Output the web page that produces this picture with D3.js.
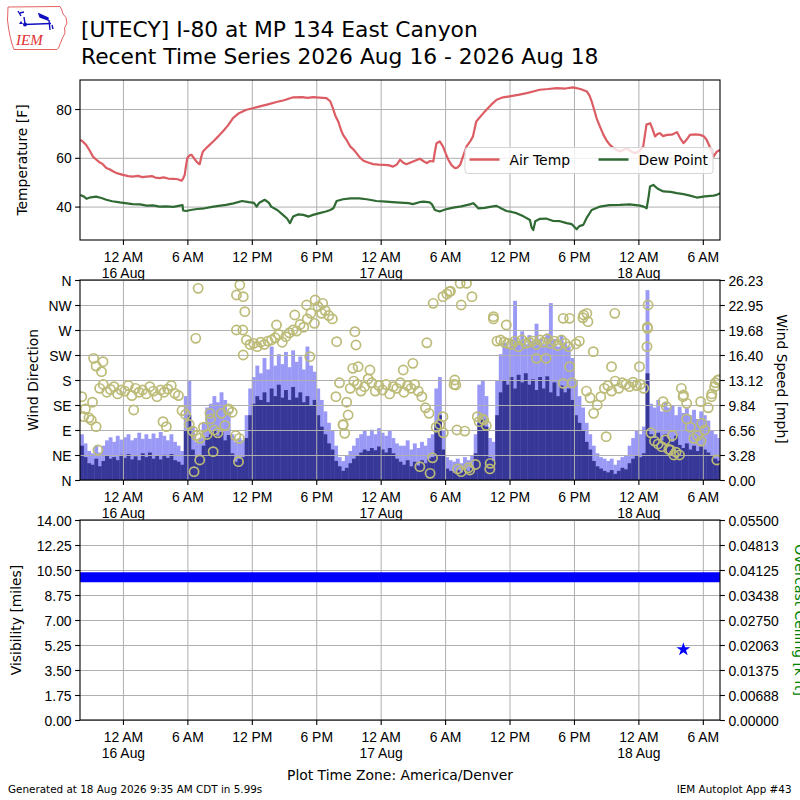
<!DOCTYPE html>
<html>
<head>
<meta charset="utf-8">
<script src="https://cdn.jsdelivr.net/npm/d3@7"></script>
<style>
  body { margin: 0; background: #fff; }
  svg { font-family: "DejaVu Sans", sans-serif; }
  .grid line { stroke: #b0b0b0; stroke-width: 1; }
  .grid path { display: none; }
  .ax path, .ax line { stroke: #000; stroke-width: 1.1; }
  .ax text { font-size: 13.9px; fill: #000; }
</style>
</head>
<body>
<script>
// hours are counted from 16 Aug 2026 00:00 local (America/Denver)
const airTemp = [[-3.97,67.4],[-3.7,66.5],[-3.4,65.1],[-3.1,63.0],[-2.8,60.5],[-2.5,59.3],[-2.2,58.2],[-1.9,57.5],[-1.55,55.8],[-1.2,55.2],[-0.9,54.4],[-0.5,53.6],[0,53.0],[0.5,52.5],[0.9,52.3],[1.4,52.6],[1.8,52.1],[2.2,52.3],[2.7,52.5],[3.0,51.9],[3.4,51.7],[3.8,52.0],[4.2,51.5],[4.7,51.4],[5.1,51.2],[5.45,50.6],[5.6,51.5],[5.75,53.0],[5.9,57.5],[6.0,59.9],[6.2,61.0],[6.4,61.2],[6.65,59.6],[6.85,58.5],[7.05,57.6],[7.15,57.4],[7.3,60.5],[7.45,62.6],[7.9,64.6],[8.4,66.7],[8.9,68.9],[9.3,70.8],[9.8,73.4],[10.25,76.3],[10.8,78.3],[11.5,79.7],[12.1,80.3],[12.75,81.1],[13.5,81.9],[14.3,82.9],[15.0,83.6],[15.85,84.8],[16.7,84.9],[17.2,84.6],[17.7,84.9],[18.3,84.7],[18.95,84.5],[19.3,83.2],[19.55,80.4],[19.8,77.0],[20.05,74.9],[20.3,71.5],[20.5,69.4],[20.8,67.5],[21.15,64.7],[21.45,63.5],[21.75,61.9],[22.05,60.2],[22.4,58.8],[22.9,58.0],[23.3,57.4],[23.8,57.2],[24.25,57.1],[24.7,57.0],[25.15,56.4],[25.5,57.2],[25.8,59.2],[26.1,58.0],[26.4,57.4],[26.9,58.3],[27.3,59.0],[27.65,59.6],[28.0,58.6],[28.3,57.8],[28.6,58.7],[28.9,58.5],[29.05,62.5],[29.2,66.0],[29.5,66.7],[29.8,64.7],[30.05,61.8],[30.3,59.2],[30.6,57.0],[30.9,55.8],[31.15,56.0],[31.4,57.1],[31.7,61.0],[32.0,64.7],[32.3,66.5],[32.6,68.8],[32.9,74.9],[33.4,77.5],[33.85,79.7],[34.3,81.8],[34.8,83.8],[35.4,84.8],[36.0,85.2],[36.8,85.8],[37.6,86.5],[38.2,87.2],[38.8,87.9],[39.6,88.2],[40.4,88.6],[41.2,88.4],[41.9,88.9],[42.6,88.2],[43.2,87.2],[43.45,85.5],[43.65,83.1],[43.9,79.5],[44.1,76.3],[44.45,72.5],[44.75,69.4],[45.05,67.0],[45.35,65.3],[45.8,63.6],[46.3,62.6],[46.6,63.2],[46.9,64.0],[47.3,62.6],[47.7,61.9],[48.1,62.8],[48.45,64.7],[48.6,69.0],[48.75,73.6],[49.1,74.2],[49.3,72.0],[49.55,68.8],[49.8,69.8],[50.0,70.1],[50.3,68.9],[50.65,69.4],[51.1,69.5],[51.6,70.5],[51.9,68.0],[52.2,66.0],[52.5,67.5],[52.8,69.4],[53.3,69.6],[53.75,69.4],[54.1,68.8],[54.35,67.4],[54.7,64.0],[55.0,60.5],[55.3,62.5],[55.6,63.2]];

const dewPoint = [[-3.97,44.8],[-3.6,44.0],[-3.4,43.2],[-3.0,43.8],[-2.5,44.1],[-2.0,43.5],[-1.55,42.8],[-1.0,42.2],[-0.3,41.7],[0.9,41.0],[1.6,40.9],[2.2,40.4],[2.8,40.5],[3.4,40.0],[4.0,40.1],[4.7,39.9],[5.3,40.4],[5.55,40.6],[5.6,38.4],[5.9,38.2],[6.3,38.6],[6.9,39.0],[7.6,39.3],[8.3,39.9],[8.9,40.3],[9.6,40.7],[10.3,41.3],[11.1,42.3],[11.7,41.8],[12.2,41.5],[12.45,40.0],[12.7,41.6],[13.2,42.8],[13.6,41.5],[13.8,40.0],[14.4,38.5],[14.9,36.6],[15.3,35.0],[15.55,33.2],[15.85,35.9],[16.3,36.8],[16.8,36.6],[17.3,35.9],[17.7,36.6],[18.3,37.3],[18.9,38.0],[19.3,38.6],[19.6,39.3],[19.9,42.3],[20.5,43.0],[21.2,43.4],[22.0,43.4],[22.7,43.0],[23.6,42.3],[24.5,42.0],[25.1,41.8],[25.8,41.6],[26.6,41.4],[27.0,41.0],[27.6,41.8],[28.0,42.0],[28.58,41.7],[28.8,40.8],[29.05,38.6],[29.5,38.0],[30.0,38.8],[30.76,39.6],[31.5,40.1],[32.3,40.9],[32.61,41.4],[32.9,40.3],[33.08,39.3],[33.7,39.5],[34.3,40.0],[34.79,40.3],[35.2,39.3],[35.72,38.2],[36.2,37.8],[36.65,37.3],[37.3,36.0],[37.9,34.5],[38.05,31.5],[38.21,30.4],[38.4,34.0],[38.83,35.0],[39.4,35.1],[40.07,34.1],[40.7,34.0],[41.32,33.2],[41.8,32.8],[42.25,30.7],[42.5,32.0],[42.87,32.5],[43.2,35.5],[43.65,38.6],[44.43,40.0],[45.3,40.6],[46.29,40.7],[47.2,40.9],[48.15,40.4],[48.5,40.0],[48.77,39.3],[48.95,44.0],[49.08,48.2],[49.39,48.9],[49.8,47.3],[50.33,46.2],[51.0,46.0],[51.58,45.5],[52.2,45.1],[52.8,44.5],[53.44,43.7],[54.2,44.2],[54.99,44.5],[55.3,44.8],[55.61,45.5]];

// wind obs: one value per 20 minute slot, first slot starts at hour -4
const windStartHour = -4;
const windSlotHours = 1 / 3;
const windSpeed = [4.5,3.0,2.2, 2.0,2.8,1.8, 2.5,3.2,2.8, 3.0,2.6,3.3, 2.9,3.4,2.7, 3.1,2.6,3.5, 3.0,3.6,2.8, 3.2,2.7,3.3, 2.9,3.4,2.6, 2.4,2.0,6.5,
  8.5,4.0,3.0, 3.2,4.5,5.6, 6.0,6.5,5.8, 6.3,5.2,5.9, 3.5,2.4,2.8, 3.0,5.5,8.5, 10.0,11.0,10.5, 11.5,10.2,12.0, 11.0,12.5,10.8, 11.8,10.5,12.2,
  10.8,11.5,10.2, 11.0,9.8,10.5, 8.5,7.0,6.0, 4.8,4.0,2.5, 1.8,1.2,1.6, 2.2,2.8,3.2, 3.6,4.0,3.8, 4.2,3.9,4.4, 4.0,3.6,4.2, 3.5,2.8,2.4,
  2.0,2.6,1.8, 2.4,1.9,2.6, 2.2,2.8,3.0, 7.5,8.5,4.0, 1.5,1.2,1.0, 1.3,1.0,1.4, 1.2,1.6,3.5, 7.5,8.0,7.0, 3.0,2.5,8.5, 11.5,13.0,12.5,
  13.5,12.0,13.8, 12.8,14.0,12.5, 13.2,11.8,13.5, 12.0,13.6,11.5, 12.8,11.0,12.4, 11.5,12.0,10.5, 8.5,7.5,6.5, 5.0,4.0,2.5, 1.8,1.5,1.2, 1.0,1.3,0.8,
  1.2,1.6,1.4, 2.2,2.8,3.2, 3.0,3.5,14.0, 6.0,5.5,6.2, 5.2,6.0,5.5, 5.0,5.8,4.6, 4.2,4.8,4.0, 4.5,3.8,4.4, 4.0,3.6,3.2, 2.8,2.5];
const windGust = [6.0,4.8,3.8, 3.5,4.5,3.6, 4.5,5.2,5.6, 5.0,5.8,5.3, 5.6,6.0,5.2, 5.5,6.2,5.4, 6.0,5.4,6.1, 5.5,6.3,5.8, 5.2,6.0,5.0, 4.5,3.8,11.0,
  13.0,7.0,5.0, 5.5,7.5,9.5, 10.0,11.0,10.2, 11.5,10.5,9.0, 6.0,5.0,5.5, 5.2,8.5,12.0, 13.5,15.0,14.0, 16.0,14.5,17.5, 15.0,16.5,15.2, 16.8,14.8,17.0,
  15.5,16.2,14.5, 17.5,15.0,14.2, 12.0,10.5,9.0, 7.5,6.5,4.5, 3.0,2.5,3.2, 3.8,4.5,5.5, 6.0,6.5,5.8, 6.6,6.0,6.8, 6.2,5.8,6.5, 5.5,4.8,4.5,
  4.5,5.2,4.0, 4.8,4.2,5.0, 4.5,5.5,6.0, 12.0,13.5,6.5, 3.0,2.6,2.4, 2.8,2.2,3.0, 2.6,3.2,6.0, 12.5,13.0,11.0, 5.5,5.0,13.0, 16.5,18.0,17.5,
  18.5,23.5,18.0, 19.5,17.8,19.0, 18.2,20.5,18.5, 17.8,19.2,23.2, 18.5,17.5,19.0, 18.0,17.5,16.0, 13.0,11.0,9.5, 7.5,6.0,4.5, 3.5,3.0,2.8, 2.5,2.8,2.0,
  2.6,3.0,3.2, 4.5,5.5,6.5, 6.0,7.0,24.9, 10.0,9.5,10.5, 9.0,10.2,9.5, 9.8,8.5,9.6, 8.8,9.5,8.5, 9.2,8.0,9.0, 8.5,7.8,6.5, 6.0,5.5];
const windDir = [150,128,112, 140,205,165, 172,158,163, 168,155,162, 160,170,152, 165,158,162, 155,168,160, 150,162,158, 164,170,156, 152,125,118,
  100,88,80, 75,95,82, 110,90,85, 120,98,128, 122,80,75, 270,252,244, 246,240,248, 244,250,252, 256,262,248, 258,265,270,
  268,280,275, 290,300,282, 312,300,305, 296,290,150, 175,100,140, 165,178,172, 160,168,182, 175,160,170, 162,172,155, 168,165,175,
  158,170,165, 172,160,150, 130,120,40, 95,100,85, 335,340,172, 20,15,88, 22,330,28, 105,110,98, 20,290,250, 252,248,246,
  244,250,240, 252,246,248, 250,244,252, 248,254,246, 250,242,252, 246,240,175, 245,250,292, 160,148,120, 135,150,165, 170,160,178,
  165,175,172, 168,176,170, 172,165,275, 85,70,65, 60,72,55, 80,50,45, 150,110,95, 75,80,70, 90,130,155, 175,180];
// extra direction reports between the 20 minute ones [hour, degrees]
const windDirExtra = [[-2.73,219],[-1.86,213],[-2.0,195],[-2.33,54],[-2.5,96],[-2.95,108],[-3.66,114],[1.0,126],[3.73,105],[4.04,96],
  [7.0,345],[6.78,255],[6.62,15],[7.15,36],[8.4,51],[8.1,120],[9.8,126],[10.57,333],[10.88,351],[11.2,330],[11.35,303],[10.57,270],[10.76,33],[11.2,225],
  [14.3,279],[16.0,297],[17.1,315],[17.9,324],[18.6,318],[17.4,222],[19.9,249],[21.6,267],[21.7,243],[20.5,99],[20.65,84],[20.97,117],[21.4,201],[21.9,204],[23.0,198],
  [28.89,318],[29.8,330],[30.4,339],[31.4,354],[32.0,354],[31.5,315],[28.3,247],[27.0,210],[26.1,198],[30.9,180],[31.0,171],[31.1,90],[29.8,114],[27.65,24],[28.6,12],[32.3,18],[34.2,30],[33.0,114],[33.6,108],
  [34.5,294],[35.7,279],[38.5,219],[39.4,219],[41.0,291],[41.6,291],[41.0,174],[41.6,204],[42.9,297],[43.2,300],[43.3,285],[43.8,231],[45.0,78],[45.8,300],[45.5,204],[48.1,204],
  [48.9,315],[48.84,273],[48.8,240],[50.3,141],[50.6,132],[52.0,165],[52.2,153],[52.5,138],[53.8,141],[54.8,150],[55.1,168],[55.4,180],[55.3,36],[53.9,102],[51.0,54],[51.3,45]];

const visibility = [[-4.0,10],[55.6,10]];
const ceiling = [[52.19,0.0194]];

const tempTicks = [40,60,80];
const dirLabels = ["N","NE","E","SE","S","SW","W","NW","N"];
const speedLabels = ["0.00","3.28","6.56","9.84","13.12","16.40","19.68","22.95","26.23"];
const visLabels = ["0.00","1.75","3.50","5.25","7.00","8.75","10.50","12.25","14.00"];
const ceilLabels = ["0.00000","0.00688","0.01375","0.02063","0.02750","0.03438","0.04125","0.04813","0.05500"];
const xTickHours = [0,6,12,18,24,30,36,42,48,54];

const T0 = Date.UTC(2026, 7, 16);
const toDate = h => new Date(T0 + h * 3600e3);

const W = 800, H = 800;
const left = 80, right = 720;
const svg = d3.select("body").append("svg").attr("width", W).attr("height", H);

const x = d3.scaleUtc().domain([toDate(-4.0), toDate(55.6)]).range([left, right]);

const panels = [{top: 80, bottom: 240}, {top: 280, bottom: 480}, {top: 520, bottom: 720}];

const defs = svg.append("defs");
panels.forEach((p, i) => {
  defs.append("clipPath").attr("id", "clip" + i)
    .append("rect").attr("x", left).attr("y", p.top).attr("width", right - left).attr("height", p.bottom - p.top);
});

const hourFmt = d3.utcFormat("%-I %p");
const dayFmt = d3.utcFormat("%d %b");

function xAxisFor(p) {
  // vertical grid
  svg.append("g").attr("class", "grid")
    .attr("transform", `translate(0,${p.bottom})`)
    .call(d3.axisBottom(x).tickValues(xTickHours.map(toDate)).tickSize(-(p.bottom - p.top)).tickFormat(""));
  const ax = svg.append("g").attr("class", "ax")
    .attr("transform", `translate(0,${p.bottom})`)
    .call(d3.axisBottom(x).tickValues(xTickHours.map(toDate)).tickSizeOuter(0).tickSize(4.9).tickPadding(3).tickFormat(hourFmt));
  ax.select(".domain").remove();
  ax.selectAll(".tick text").attr("y", 0).attr("dy", null).attr("transform", "translate(0,21.5)");
  ax.selectAll(".tick").filter(d => d.getUTCHours() === 0)
    .append("text").attr("y", 38).attr("fill", "#000").text(d => dayFmt(d));
}

function yGrid(p, scale, values) {
  svg.append("g").attr("class", "grid")
    .attr("transform", `translate(${left},0)`)
    .call(d3.axisLeft(scale).tickValues(values).tickSize(-(right - left)).tickFormat(""));
}

function yAxisLeft(p, scale, values, labels) {
  const ax = svg.append("g").attr("class", "ax")
    .attr("transform", `translate(${left},0)`)
    .call(d3.axisLeft(scale).tickValues(values).tickSize(4.9).tickPadding(3.5)
      .tickFormat((d, i) => labels ? labels[i] : d));
  ax.select(".domain").remove();
  ax.selectAll(".tick text").attr("dy", "0.36em");
}

function yAxisRight(p, scale, values, labels) {
  const ax = svg.append("g").attr("class", "ax")
    .attr("transform", `translate(${right},0)`)
    .call(d3.axisRight(scale).tickValues(values).tickSize(4.9).tickPadding(3.5)
      .tickFormat((d, i) => labels[i]));
  ax.select(".domain").remove();
  ax.selectAll(".tick text").attr("dy", "0.36em");
}

function frame(p) {
  svg.append("rect").attr("x", left).attr("y", p.top)
    .attr("width", right - left).attr("height", p.bottom - p.top)
    .attr("fill", "none").attr("stroke", "#000").attr("stroke-width", 1.1);
}

function yLabel(txt, xpos, ycenter, rot, color) {
  svg.append("text")
    .attr("transform", `translate(${xpos},${ycenter}) rotate(${rot})`)
    .attr("text-anchor", "middle").attr("font-size", "13.9px")
    .attr("fill", color || "#000").text(txt);
}

// ---------- panel 1: temperature ----------
const p1 = panels[0];
const yT = d3.scaleLinear().domain([26.3, 91.9]).range([p1.bottom, p1.top]);
yGrid(p1, yT, tempTicks);
xAxisFor(p1);

const tLine = d3.line().x(d => x(toDate(d[0]))).y(d => yT(d[1]));
const g1 = svg.append("g").attr("clip-path", "url(#clip0)");
g1.append("path").datum(airTemp).attr("d", tLine)
  .attr("fill", "none").attr("stroke", "#dc5c63").attr("stroke-width", 2.2).attr("stroke-linejoin", "round");
g1.append("path").datum(dewPoint).attr("d", tLine)
  .attr("fill", "none").attr("stroke", "#2f6a33").attr("stroke-width", 2.2).attr("stroke-linejoin", "round");

yAxisLeft(p1, yT, tempTicks);
frame(p1);
yLabel("Temperature [F]", 27, 160, -90);

// legend
const lg = svg.append("g");
lg.append("rect").attr("x", 465).attr("y", 147.5).attr("width", 248).attr("height", 26).attr("rx", 3)
  .attr("fill", "#fff").attr("fill-opacity", 0.8).attr("stroke", "#d5d5d5");
[["Air Temp", "#dc5c63", 469.5], ["Dew Point", "#2f6a33", 598.5]].forEach(([name, col, lx]) => {
  lg.append("line").attr("x1", lx).attr("x2", lx + 30).attr("y1", 159.5).attr("y2", 159.5)
    .attr("stroke", col).attr("stroke-width", 2.5);
  lg.append("text").attr("x", lx + 40).attr("y", 165).attr("font-size", "13.9px").text(name);
});

// ---------- panel 2: wind ----------
const p2 = panels[1];
const yDir = d3.scaleLinear().domain([0, 360]).range([p2.bottom, p2.top]);
const ySpd = d3.scaleLinear().domain([0, 26.23]).range([p2.bottom, p2.top]);
const dirTicks = d3.range(0, 361, 45);

const g2 = svg.append("g").attr("clip-path", "url(#clip1)");
const slotStart = i => toDate(windStartHour + i * windSlotHours);
const slotEnd = i => toDate(windStartHour + (i + 1) * windSlotHours);
g2.selectAll("rect.gust").data(windGust).join("rect").attr("class", "gust")
  .attr("x", (d, i) => x(slotStart(i))).attr("width", (d, i) => x(slotEnd(i)) - x(slotStart(i)) + 0.3)
  .attr("y", d => ySpd(d)).attr("height", d => ySpd(0) - ySpd(d)).attr("fill", "#9a9af6");
g2.selectAll("rect.spd").data(windSpeed).join("rect").attr("class", "spd")
  .attr("x", (d, i) => x(slotStart(i))).attr("width", (d, i) => x(slotEnd(i)) - x(slotStart(i)) + 0.3)
  .attr("y", d => ySpd(d)).attr("height", d => ySpd(0) - ySpd(d)).attr("fill", "#373797");

yGrid(p2, yDir, dirTicks);
xAxisFor(p2);

const dirPts = windDir.map((d, i) => [windStartHour + (i + 0.5) * windSlotHours, d]).concat(windDirExtra);
const g2b = svg.append("g").attr("clip-path", "url(#clip1)");
g2b.selectAll("circle").data(dirPts).join("circle")
  .attr("cx", d => x(toDate(d[0]))).attr("cy", d => yDir(d[1])).attr("r", 4.6)
  .attr("fill", "none").attr("stroke", "#bcbb78").attr("stroke-width", 1.7);

yAxisLeft(p2, yDir, dirTicks, dirLabels);
yAxisRight(p2, ySpd, d3.range(9).map(i => i * 26.23 / 8), speedLabels);
frame(p2);
yLabel("Wind Direction", 38, 380, -90);
yLabel("Wind Speed [mph]", 777, 379, 90);

// ---------- panel 3: visibility / ceiling ----------
const p3 = panels[2];
const yVis = d3.scaleLinear().domain([0, 14]).range([p3.bottom, p3.top]);
const yCeil = d3.scaleLinear().domain([0, 0.055]).range([p3.bottom, p3.top]);
yGrid(p3, yVis, d3.range(9).map(i => i * 1.75));
xAxisFor(p3);

const g3 = svg.append("g").attr("clip-path", "url(#clip2)");
g3.append("path").datum(visibility)
  .attr("d", d3.line().x(d => x(toDate(d[0]))).y(d => yVis(d[1])))
  .attr("stroke", "#0000ff").attr("stroke-width", 10).attr("fill", "none");
g3.selectAll("path.ceil").data(ceiling).join("path").attr("class", "ceil")
  .attr("transform", d => `translate(${x(toDate(d[0]))},${yCeil(d[1])})`)
  .attr("d", d3.symbol(d3.symbolStar, 60)).attr("fill", "#0000ff");

yAxisLeft(p3, yVis, d3.range(9).map(i => i * 1.75), visLabels);
yAxisRight(p3, yCeil, d3.range(9).map(i => i * 0.055 / 8), ceilLabels);
frame(p3);
yLabel("Visibility [miles]", 21, 620, -90);
yLabel("Overcast Ceiling [k ft]", 795, 620, 90, "#008000");

// ---------- titles ----------
svg.append("text").attr("x", 81).attr("y", 36.7).attr("font-size", "21.8px").text("[UTECY] I-80 at MP 134 East Canyon");
svg.append("text").attr("x", 81).attr("y", 64).attr("font-size", "21.8px").text("Recent Time Series 2026 Aug 16 - 2026 Aug 18");
svg.append("text").attr("x", 400).attr("y", 780).attr("text-anchor", "middle").attr("font-size", "13.9px").text("Plot Time Zone: America/Denver");
svg.append("text").attr("x", 8).attr("y", 793).attr("font-size", "10.4px").text("Generated at 18 Aug 2026 9:35 AM CDT in 5.99s");
svg.append("text").attr("x", 791.5).attr("y", 793).attr("text-anchor", "end").attr("font-size", "10.4px").text("IEM Autoplot App #43");

// ---------- logo ----------
const logo = svg.append("g");
logo.append("path")
  .attr("d", "M8,7 L60,6.5 L61.5,9 L63,14 L66,17.5 L67,23 L64.5,28 L65,33 L62.5,38 L60.5,43 L58.5,48 L57,49.5 L14,49.5 L12,44 L10,36 L8.5,28 L7.5,20 Z")
  .attr("fill", "none").attr("stroke", "#e05050").attr("stroke-width", 0.9);
logo.append("text").attr("x", 16).attr("y", 45).attr("font-family", "Liberation Serif, serif")
  .attr("font-style", "italic").attr("font-size", "15px").attr("fill", "#e03030").text("IEM");
logo.append("path").attr("d", "M24,24.5 L51,23.5").attr("stroke", "#1010c0").attr("stroke-width", 1.6);
logo.append("path").attr("d", "M18,11 L21,16 M20,13 L24,12 M24,17 L25,24 M39,14 L48,18 L48,20 L40,17 Z M49,20 L50,30 M52,25 L53,29")
  .attr("stroke", "#1010c0").attr("stroke-width", 1.4).attr("fill", "#1010c0");
logo.append("circle").attr("cx", 25).attr("cy", 24.5).attr("r", 2).attr("fill", "#1010c0");
logo.append("path").attr("d", "M19,24 L21,21 L23,24 Z").attr("fill", "#1010c0");
</script>
</body>
</html>
